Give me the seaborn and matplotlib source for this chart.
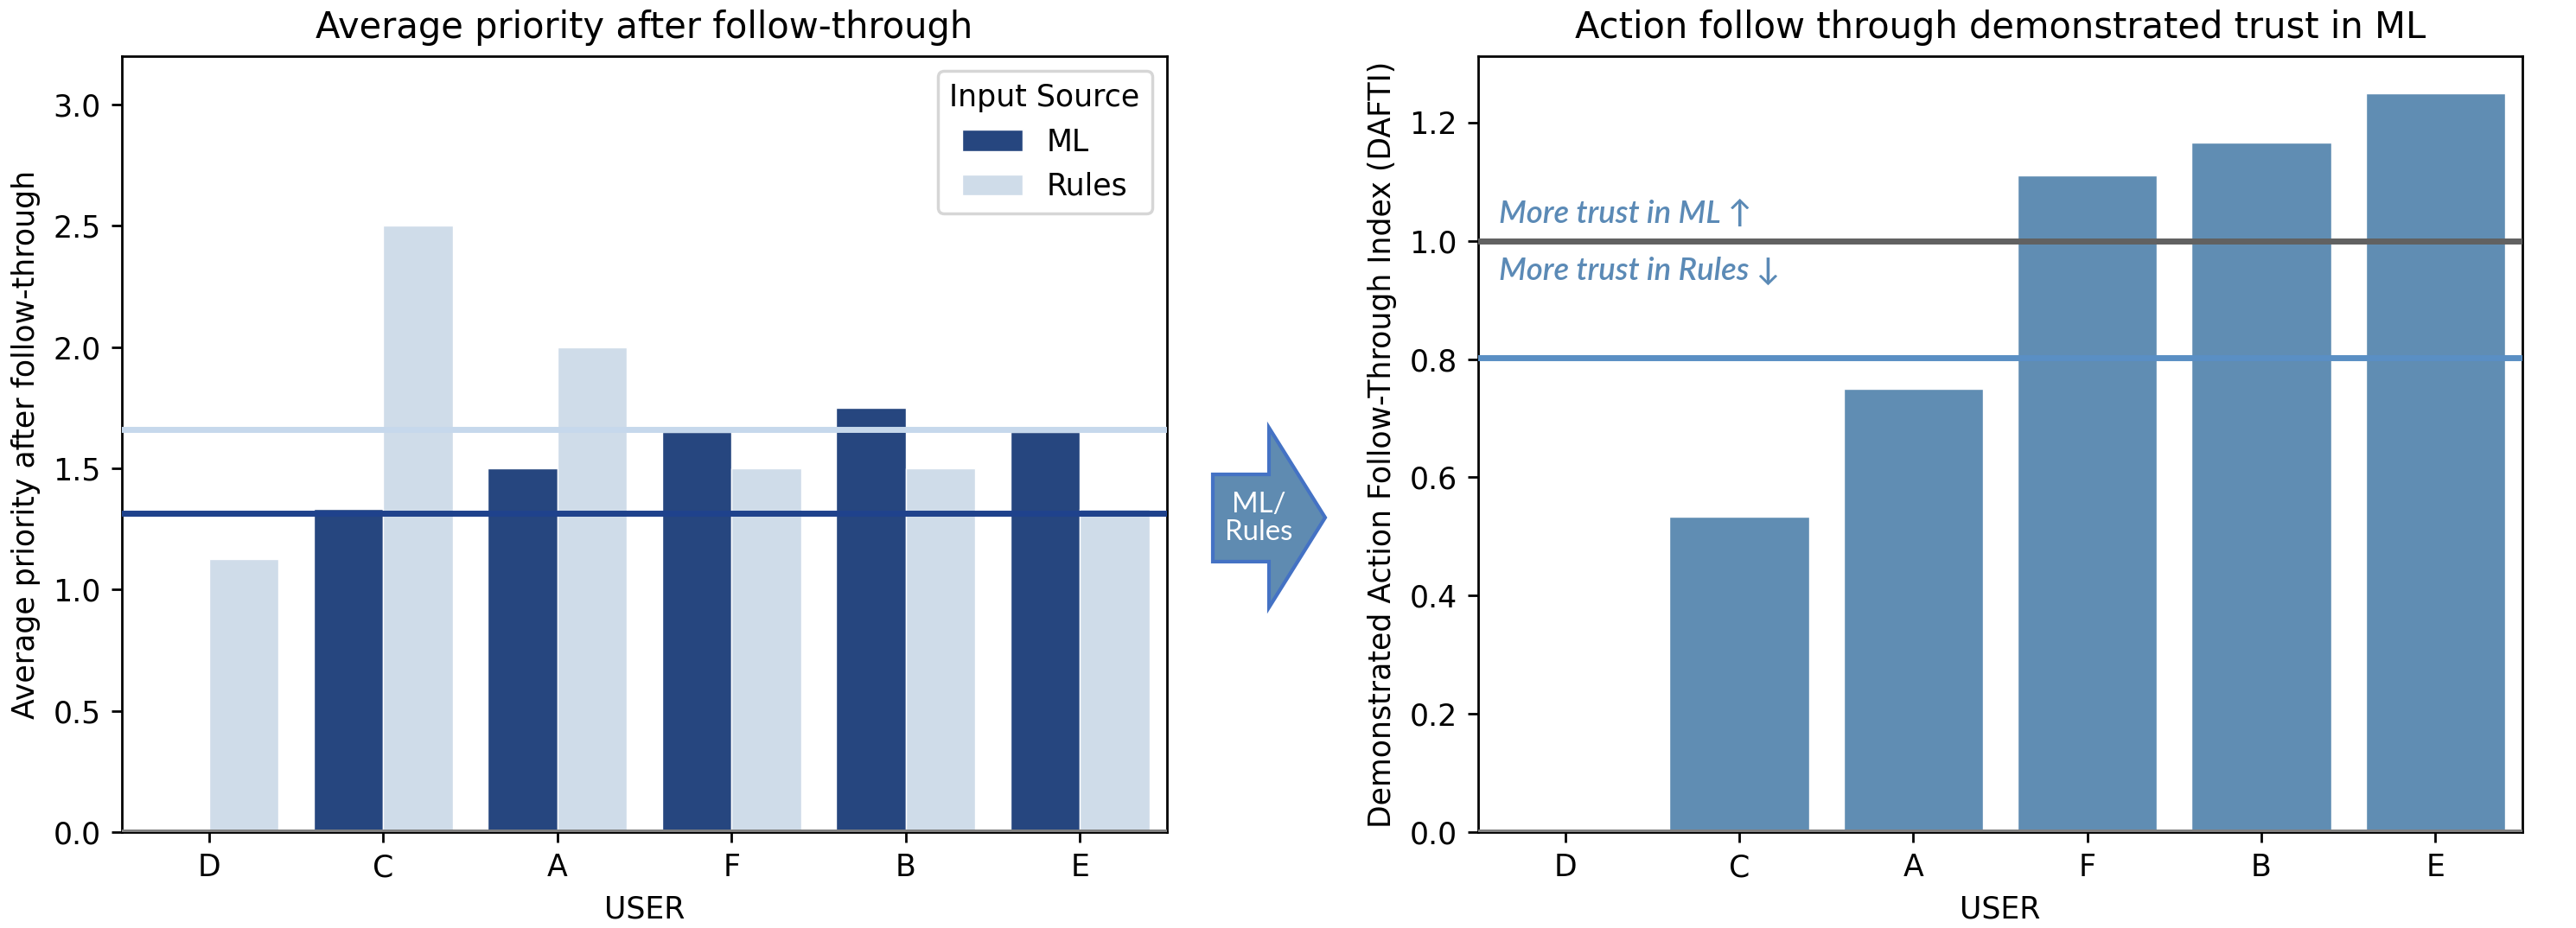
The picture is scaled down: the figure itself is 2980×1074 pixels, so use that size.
import matplotlib
matplotlib.use("Agg")
import matplotlib.pyplot as plt
import seaborn as sns
import numpy as np
import pandas as pd
from matplotlib.patches import Polygon

# ---- data ----
users = ["D", "C", "A", "F", "B", "E"]
ml_priority = [0.0, 1.333, 1.5, 1.65, 1.75, 1.65]
rules_priority = [1.125, 2.5, 2.0, 1.5, 1.5, 1.333]
dafti = [0.0, 0.533, 0.75, 1.111, 1.167, 1.25]
sources = ["ML", "Rules"]

df_left = pd.DataFrame({
    "USER": users * 2,
    "Input Source": ["ML"] * len(users) + ["Rules"] * len(users),
    "priority": ml_priority + rules_priority,
})
df_right = pd.DataFrame({"USER": users, "DAFTI": dafti})

W, H = 2980, 1074
DPI = 250
fig = plt.figure(figsize=(W / DPI, H / DPI), dpi=DPI)

top_px, bot_px = 65, 963
ax1 = fig.add_axes([141 / W, 1 - bot_px / H, (1350 - 141) / W, (bot_px - top_px) / H])
ax2 = fig.add_axes([1710 / W, 1 - bot_px / H, (2918 - 1710) / W, (bot_px - top_px) / H])

# ---- left chart ----
pal = {"ML": "#26467f", "Rules": "#cfdce9"}
sns.barplot(data=df_left, x="USER", y="priority", hue="Input Source",
            order=users, hue_order=sources, palette=pal, saturation=1,
            ax=ax1, edgecolor="white", linewidth=0.4)
ax1.axhline(0, color="#808080", lw=2, zorder=5)
ax1.axhline(np.mean(rules_priority), color="#c6d8ec", lw=2, zorder=5)
ax1.axhline(np.mean(ml_priority), color="#1f428c", lw=2, zorder=5)
ax1.set_ylim(0, 3.2)
ax1.set_xlim(-0.5, len(users) - 0.5)
ax1.set_title("Average priority after follow-through")
ax1.set_ylabel("Average priority after follow-through")
ax1.set_xlabel("USER")
leg = ax1.legend(title="Input Source", loc="upper right")

# ---- right chart ----
sns.barplot(data=df_right, x="USER", y="DAFTI", order=users, color="#608db3",
            saturation=1, ax=ax2, edgecolor="white", linewidth=0.4)
ax2.axhline(0, color="#808080", lw=2, zorder=5)
ax2.axhline(1.0, color="#616161", lw=2, zorder=5)
ax2.axhline(np.mean(dafti), color="#5a8fc4", lw=2, zorder=5)
ax2.set_xlim(-0.5, len(users) - 0.5)
ax2.set_title("Action follow through demonstrated trust in ML")
ax2.set_ylabel("Demonstrated Action Follow-Through Index (DAFTI)")
ax2.set_xlabel("USER")

txt_col = "#5b8ab6"
ax2.text(0.02, 1.046, "More trust in ML \u2191", transform=ax2.get_yaxis_transform(),
         color=txt_col, style="italic", fontsize=10.5, va="center", ha="left",
         family=["Lato", "DejaVu Sans"], fontweight="semibold")
ax2.text(0.02, 0.949, "More trust in Rules \u2193", transform=ax2.get_yaxis_transform(),
         color=txt_col, style="italic", fontsize=10.5, va="center", ha="left",
         family=["Lato", "DejaVu Sans"], fontweight="semibold")

# ---- arrow between charts ----
pts_px = [(1403, 549), (1468, 549), (1468, 495), (1533, 599),
          (1468, 703), (1468, 650), (1403, 650)]
pts = [(x / W, 1 - y / H) for x, y in pts_px]
arrow = Polygon(pts, closed=True, transform=fig.transFigure,
                facecolor="#5f8bb1", edgecolor="#4472c4", lw=1.2)
fig.patches.append(arrow)
fig.text(1456 / W, 1 - 600 / H, "ML/\nRules", color="white", ha="center",
         va="center", fontsize=9.5, family=["Lato", "DejaVu Sans"],
         linespacing=1.1)

fig.savefig("out.png", dpi=DPI)
